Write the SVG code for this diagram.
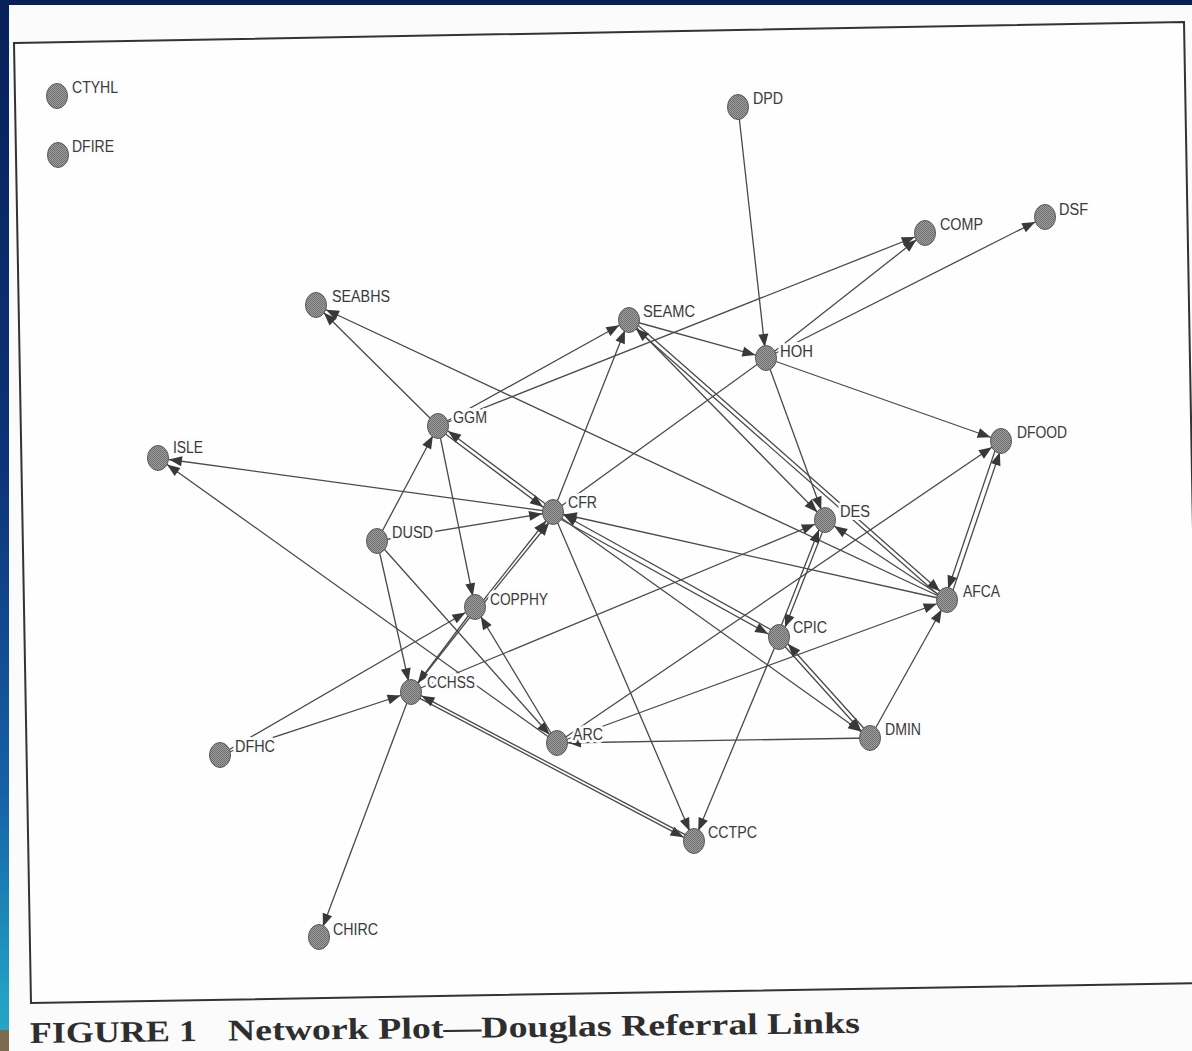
<svg xmlns="http://www.w3.org/2000/svg" width="1192" height="1051" viewBox="0 0 1192 1051">
<defs>
<linearGradient id="strip" x1="0" y1="0" x2="0" y2="1">
<stop offset="0" stop-color="#07205a"/>
<stop offset="0.45" stop-color="#0d3378"/>
<stop offset="0.75" stop-color="#1660a5"/>
<stop offset="0.95" stop-color="#22a0c4"/>
<stop offset="1" stop-color="#2aa6c2"/>
</linearGradient>
<pattern id="stip" width="2" height="2" patternUnits="userSpaceOnUse">
<rect width="2" height="2" fill="#9c9c9c"/>
<rect width="1" height="1" fill="#6c6c6c"/>
<rect x="1" y="1" width="1" height="1" fill="#747474"/>
</pattern>
<marker id="ah" markerUnits="userSpaceOnUse" orient="auto" refX="11" refY="0" markerWidth="16" markerHeight="12" overflow="visible">
<path d="M0,0 L-13,-5 L-13,5 Z" fill="#383838"/>
</marker>
<style>
.e{stroke:#4a4a4a;stroke-width:1.3;fill:none;marker-end:url(#ah)}
.n{fill:url(#stip);stroke:#5a5a5a;stroke-width:1}
.t{font-family:"Liberation Sans",Arial,sans-serif;font-size:16px;fill:#3a3a3a;stroke:#fcfcfc;stroke-width:6px;stroke-linejoin:round;paint-order:stroke fill}
.cap{font-family:"Liberation Serif","Times New Roman",serif;font-weight:bold;font-size:30px;fill:#2e2e2e}
</style>
</defs>
<rect width="1192" height="1051" fill="#07205a"/>
<rect x="0" y="0" width="9" height="1051" fill="url(#strip)"/>
<rect x="0" y="1030" width="9" height="21" fill="#7d6a52"/>
<rect x="9" y="5" width="1183" height="1046" fill="#fbfbfb"/>
<polygon points="14,43 1184,22 1201,983 31,1003" fill="#fefefe" stroke="#333" stroke-width="2"/>
<g id="connectors">
<line class="e" x1="738" y1="107" x2="766" y2="358"/>
<line class="e" x1="629" y1="320" x2="766" y2="358"/>
<line class="e" x1="766" y1="358" x2="925" y2="233"/>
<line class="e" x1="766" y1="358" x2="1045" y2="217"/>
<line class="e" x1="766" y1="358" x2="1001" y2="441"/>
<line class="e" x1="766" y1="358" x2="825" y2="520"/>
<line x1="553" y1="512" x2="766" y2="358" stroke="#4a4a4a" stroke-width="1.3"/>
<line class="e" x1="438" y1="426" x2="925" y2="233"/>
<line class="e" x1="438" y1="426" x2="629" y2="320"/>
<line class="e" x1="553" y1="512" x2="629" y2="320"/>
<line class="e" x1="629" y1="320" x2="825" y2="520"/>
<line class="e" x1="630.3" y1="318.5" x2="948.3" y2="598.5"/>
<line class="e" x1="945.7" y1="601.5" x2="627.7" y2="321.5"/>
<line class="e" x1="438" y1="426" x2="316" y2="305"/>
<line class="e" x1="947" y1="600" x2="316" y2="305"/>
<line class="e" x1="554.2" y1="510.4" x2="439.2" y2="424.4"/>
<line class="e" x1="436.8" y1="427.6" x2="551.8" y2="513.6"/>
<line class="e" x1="438" y1="426" x2="475" y2="607"/>
<line class="e" x1="377" y1="541" x2="438" y2="426"/>
<line class="e" x1="553" y1="512" x2="158" y2="458"/>
<line class="e" x1="557" y1="743" x2="158" y2="458"/>
<line class="e" x1="377" y1="541" x2="553" y2="512"/>
<line class="e" x1="377" y1="541" x2="411" y2="692"/>
<line class="e" x1="377" y1="541" x2="557" y2="743"/>
<line class="e" x1="220" y1="755" x2="411" y2="692"/>
<line class="e" x1="220" y1="755" x2="475" y2="607"/>
<line class="e" x1="411" y1="692" x2="319" y2="937"/>
<line class="e" x1="410.3" y1="693.3" x2="693.3" y2="842.3"/>
<line class="e" x1="694.7" y1="839.7" x2="411.7" y2="690.7"/>
<line class="e" x1="411" y1="692" x2="825" y2="520"/>
<line class="e" x1="411" y1="692" x2="553" y2="512"/>
<line class="e" x1="479" y1="609" x2="556" y2="514"/>
<line class="e" x1="475" y1="607" x2="411" y2="692"/>
<line class="e" x1="557" y1="743" x2="475" y2="607"/>
<line class="e" x1="553" y1="512" x2="694" y2="841"/>
<line class="e" x1="779" y1="637" x2="694" y2="841"/>
<line class="e" x1="551.8" y1="514.2" x2="777.8" y2="639.2"/>
<line class="e" x1="780.2" y1="634.8" x2="554.2" y2="509.8"/>
<line class="e" x1="553" y1="512" x2="870" y2="738"/>
<line class="e" x1="777.5" y1="638.3" x2="868.5" y2="739.3"/>
<line class="e" x1="871.5" y1="736.7" x2="780.5" y2="635.7"/>
<line class="e" x1="870" y1="738" x2="557" y2="743"/>
<line class="e" x1="870" y1="738" x2="947" y2="600"/>
<line class="e" x1="557" y1="743" x2="947" y2="600"/>
<line class="e" x1="557" y1="743" x2="1001" y2="441"/>
<line class="e" x1="949.4" y1="600.8" x2="1003.4" y2="441.8"/>
<line class="e" x1="998.6" y1="440.2" x2="944.6" y2="599.2"/>
<line class="e" x1="947" y1="600" x2="553" y2="512"/>
<line class="e" x1="947" y1="600" x2="825" y2="520"/>
<line class="e" x1="826.9" y1="520.7" x2="780.9" y2="637.7"/>
<line class="e" x1="777.1" y1="636.3" x2="823.1" y2="519.3"/>
</g>
<g id="CTYHL"><ellipse class="n" cx="57" cy="96" rx="10.5" ry="12.5"/><text class="t" x="72" y="93" textLength="46" lengthAdjust="spacingAndGlyphs">CTYHL</text></g>
<g id="DFIRE"><ellipse class="n" cx="58" cy="155" rx="10.5" ry="12.5"/><text class="t" x="72" y="152" textLength="42" lengthAdjust="spacingAndGlyphs">DFIRE</text></g>
<g id="DPD"><ellipse class="n" cx="738" cy="107" rx="10.5" ry="12.5"/><text class="t" x="753" y="104" textLength="30" lengthAdjust="spacingAndGlyphs">DPD</text></g>
<g id="COMP"><ellipse class="n" cx="925" cy="233" rx="10.5" ry="12.5"/><text class="t" x="940" y="230" textLength="43" lengthAdjust="spacingAndGlyphs">COMP</text></g>
<g id="DSF"><ellipse class="n" cx="1045" cy="217" rx="10.5" ry="12.5"/><text class="t" x="1059" y="215" textLength="29" lengthAdjust="spacingAndGlyphs">DSF</text></g>
<g id="SEABHS"><ellipse class="n" cx="316" cy="305" rx="10.5" ry="12.5"/><text class="t" x="332" y="302" textLength="58" lengthAdjust="spacingAndGlyphs">SEABHS</text></g>
<g id="SEAMC"><ellipse class="n" cx="629" cy="320" rx="10.5" ry="12.5"/><text class="t" x="643" y="317" textLength="52" lengthAdjust="spacingAndGlyphs">SEAMC</text></g>
<g id="HOH"><ellipse class="n" cx="766" cy="358" rx="10.5" ry="12.5"/><text class="t" x="780" y="357" textLength="33" lengthAdjust="spacingAndGlyphs">HOH</text></g>
<g id="GGM"><ellipse class="n" cx="438" cy="426" rx="10.5" ry="12.5"/><text class="t" x="453" y="423" textLength="34" lengthAdjust="spacingAndGlyphs">GGM</text></g>
<g id="DFOOD"><ellipse class="n" cx="1001" cy="441" rx="10.5" ry="12.5"/><text class="t" x="1017" y="438" textLength="50" lengthAdjust="spacingAndGlyphs">DFOOD</text></g>
<g id="ISLE"><ellipse class="n" cx="158" cy="458" rx="10.5" ry="12.5"/><text class="t" x="173" y="453" textLength="30" lengthAdjust="spacingAndGlyphs">ISLE</text></g>
<g id="CFR"><ellipse class="n" cx="553" cy="512" rx="10.5" ry="12.5"/><text class="t" x="568" y="508" textLength="29" lengthAdjust="spacingAndGlyphs">CFR</text></g>
<g id="DES"><ellipse class="n" cx="825" cy="520" rx="10.5" ry="12.5"/><text class="t" x="840" y="517" textLength="30" lengthAdjust="spacingAndGlyphs">DES</text></g>
<g id="DUSD"><ellipse class="n" cx="377" cy="541" rx="10.5" ry="12.5"/><text class="t" x="392" y="538" textLength="41" lengthAdjust="spacingAndGlyphs">DUSD</text></g>
<g id="COPPHY"><ellipse class="n" cx="475" cy="607" rx="10.5" ry="12.5"/><text class="t" x="490" y="605" textLength="58" lengthAdjust="spacingAndGlyphs">COPPHY</text></g>
<g id="AFCA"><ellipse class="n" cx="947" cy="600" rx="10.5" ry="12.5"/><text class="t" x="963" y="597" textLength="37" lengthAdjust="spacingAndGlyphs">AFCA</text></g>
<g id="CPIC"><ellipse class="n" cx="779" cy="637" rx="10.5" ry="12.5"/><text class="t" x="793" y="633" textLength="34" lengthAdjust="spacingAndGlyphs">CPIC</text></g>
<g id="CCHSS"><ellipse class="n" cx="411" cy="692" rx="10.5" ry="12.5"/><text class="t" x="427" y="688" textLength="48" lengthAdjust="spacingAndGlyphs">CCHSS</text></g>
<g id="ARC"><ellipse class="n" cx="557" cy="743" rx="10.5" ry="12.5"/><text class="t" x="573" y="740" textLength="30" lengthAdjust="spacingAndGlyphs">ARC</text></g>
<g id="DMIN"><ellipse class="n" cx="870" cy="738" rx="10.5" ry="12.5"/><text class="t" x="885" y="735" textLength="36" lengthAdjust="spacingAndGlyphs">DMIN</text></g>
<g id="DFHC"><ellipse class="n" cx="220" cy="755" rx="10.5" ry="12.5"/><text class="t" x="235" y="752" textLength="40" lengthAdjust="spacingAndGlyphs">DFHC</text></g>
<g id="CCTPC"><ellipse class="n" cx="694" cy="841" rx="10.5" ry="12.5"/><text class="t" x="708" y="838" textLength="49" lengthAdjust="spacingAndGlyphs">CCTPC</text></g>
<g id="CHIRC"><ellipse class="n" cx="319" cy="937" rx="10.5" ry="12.5"/><text class="t" x="333" y="935" textLength="45" lengthAdjust="spacingAndGlyphs">CHIRC</text></g>
<g id="caption" transform="rotate(-0.7 30 1043)">
<text class="cap" x="30" y="1043" textLength="167" lengthAdjust="spacingAndGlyphs">FIGURE 1</text>
<text class="cap" x="228" y="1043" textLength="632" lengthAdjust="spacingAndGlyphs">Network Plot—Douglas Referral Links</text>
</g>
</svg>
